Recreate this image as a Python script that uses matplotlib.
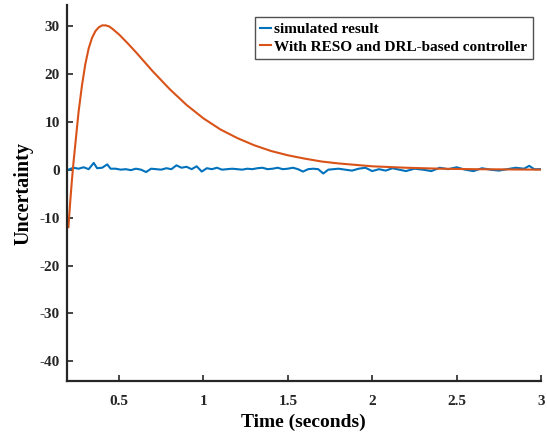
import matplotlib.pyplot as plt
import numpy as np

# orange curve: with RESO and DRL-based controller
t_reso = [0.20, 0.21, 0.22, 0.23, 0.24, 0.25, 0.26, 0.28, 0.30, 0.32, 0.34, 0.36,
          0.38, 0.40, 0.42, 0.44, 0.46, 0.50, 0.55, 0.60, 0.65, 0.70, 0.80, 0.90,
          1.00, 1.10, 1.20, 1.30, 1.40, 1.50, 1.60, 1.70, 1.80, 1.90, 2.00, 2.20,
          2.40, 2.60, 2.80, 3.00]
u_reso = [-12.0, -7.0, -2.5, 1.5, 5.0, 8.5, 12.0, 17.5, 22.0, 25.3, 27.5, 28.9,
          29.7, 30.1, 30.1, 29.9, 29.4, 28.2, 26.4, 24.5, 22.5, 20.5, 16.8, 13.5,
          10.7, 8.4, 6.6, 5.1, 3.9, 3.0, 2.3, 1.7, 1.3, 1.0, 0.7, 0.4,
          0.2, 0.1, 0.05, 0.0]

# blue curve: simulated result
t_sim = [0.20, 0.23, 0.26, 0.29, 0.32, 0.35, 0.37, 0.40, 0.43, 0.45, 0.48, 0.51,
         0.54, 0.57, 0.60, 0.63, 0.66, 0.69, 0.72, 0.75, 0.78, 0.81, 0.84, 0.87,
         0.90, 0.93, 0.96, 0.99, 1.02, 1.05, 1.08, 1.11, 1.14, 1.17, 1.20, 1.23,
         1.26, 1.29, 1.32, 1.35, 1.38, 1.41, 1.44, 1.47, 1.50, 1.53, 1.56, 1.59,
         1.62, 1.65, 1.68, 1.71, 1.74, 1.77, 1.80, 1.84, 1.88, 1.92, 1.96, 2.00,
         2.04, 2.08, 2.12, 2.16, 2.20, 2.25, 2.30, 2.35, 2.40, 2.45, 2.50, 2.55,
         2.60, 2.65, 2.70, 2.75, 2.80, 2.85, 2.90, 2.93, 2.96, 3.00]
u_sim = [0.0, 0.4, 0.2, 0.5, 0.1, 1.4, 0.3, 0.4, 1.1, 0.2, 0.2, 0.0,
         0.1, -0.1, 0.2, 0.0, -0.5, 0.2, 0.1, 0.0, 0.3, 0.1, 0.9, 0.4,
         0.6, 0.1, 0.7, -0.4, 0.3, 0.1, 0.4, 0.0, 0.1, 0.2, 0.1, 0.0,
         0.2, 0.1, 0.3, 0.4, 0.1, 0.2, 0.4, 0.1, 0.2, 0.4, 0.1, -0.4,
         0.1, 0.2, 0.1, -0.8, 0.0, 0.1, 0.2, 0.0, -0.2, 0.2, 0.4, -0.3,
         0.1, -0.2, 0.3, 0.0, -0.3, 0.2, 0.0, -0.3, 0.4, 0.1, 0.5, 0.0,
         -0.3, 0.3, 0.0, -0.2, 0.1, 0.4, 0.2, 0.8, 0.1, 0.1]

plt.rcParams['font.family'] = 'Liberation Serif'
plt.rcParams['font.weight'] = 'bold'
plt.rcParams['axes.unicode_minus'] = False

fig = plt.figure(figsize=(5.47, 4.36), dpi=100)
ax = fig.add_axes([0.122, 0.126, 0.867, 0.862])

ax.plot(t_sim, u_sim, color='#0072BD', lw=1.5, label='simulated result')
ax.plot(t_reso, u_reso, color='#D95319', lw=1.5, label='With RESO and DRL-based controller')

ax.set_xlim(0.19, 3.0)
ax.set_ylim(-44.1, 34.3)
ax.set_xticks([0.5, 1, 1.5, 2, 2.5, 3])
ax.set_xticklabels(['0.5', '1', '1.5', '2', '2.5', '3'])
ax.set_yticks([-40, -30, -20, -10, 0, 10, 20, 30])

for s in ['top', 'right']:
    ax.spines[s].set_visible(False)
for s in ['left', 'bottom']:
    ax.spines[s].set_linewidth(1.6)
    ax.spines[s].set_color('#262626')
ax.tick_params(direction='in', length=4, width=1.2, labelsize=11, colors='#262626')
ax.tick_params(axis='x', pad=10)
ax.tick_params(axis='y', pad=5)

ax.set_xlabel('Time (seconds)', fontsize=14, fontweight='bold', labelpad=4)
ax.set_ylabel('Uncertainty', fontsize=14.5, fontweight='bold', labelpad=4)

leg = ax.legend(loc='upper right', bbox_to_anchor=(0.995, 0.985), fontsize=11,
                frameon=True, fancybox=False, handlelength=0.7, handletextpad=0.2,
                borderpad=0.35, labelspacing=0.25, borderaxespad=0.4)
leg.get_frame().set_edgecolor('#262626')
leg.get_frame().set_linewidth(1.0)

fig.savefig('out.png', dpi=100)
